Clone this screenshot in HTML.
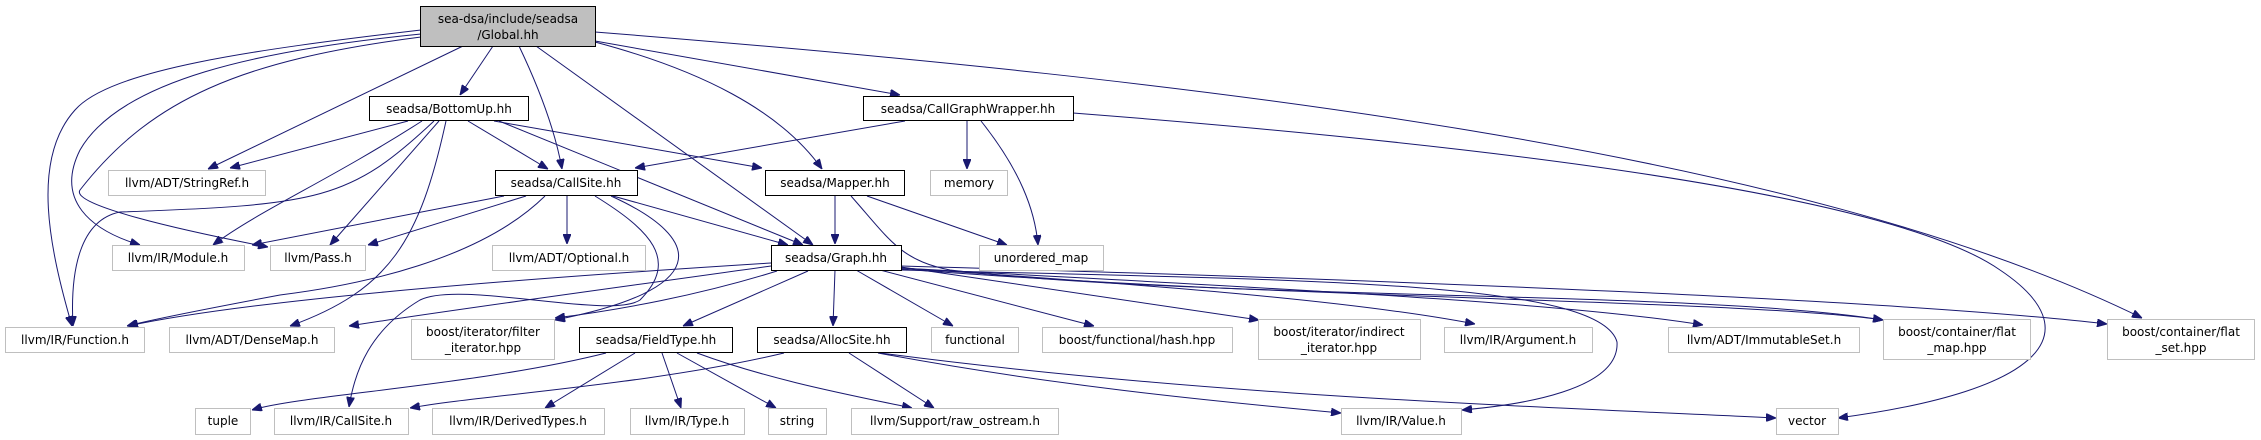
<!DOCTYPE html>
<html><head><meta charset="utf-8"><style>
html,body{margin:0;padding:0;background:#fff;width:2261px;height:440px;overflow:hidden}
svg{display:block}
text{font-family:"DejaVu Sans","Liberation Sans",sans-serif;font-size:12px;fill:#000;text-anchor:middle}
.n{fill:#fff;stroke:#bfbfbf;stroke-width:1}
.d{fill:#fff;stroke:#000;stroke-width:1}
.e{fill:none;stroke:#191970;stroke-width:1}
</style></head><body>
<svg width="2261" height="440" viewBox="0 0 2261 440" xmlns="http://www.w3.org/2000/svg">
<defs><marker id="a" markerWidth="10" markerHeight="8" refX="10" refY="4" orient="auto" markerUnits="userSpaceOnUse"><path d="M0,0 L10,4 L0,8 z" fill="#191970" stroke="#191970"/></marker></defs>
<g class="e" marker-end="url(#a)">
<!-- Global -->
<path d="M421,30 C250,50 110,70 75,110 C30,160 50,250 72,326"/>
<path d="M421,34 C260,50 120,80 80,150 C55,200 90,230 140,245"/>
<path d="M421,37 C240,60 150,100 80,190 C70,205 180,230 268,247"/>
<path d="M463,46 L208,169"/>
<path d="M493,46 L460,95"/>
<path d="M519,46 C540,90 555,130 562,169"/>
<path d="M536,46 L813,245"/>
<path d="M595,42 C700,70 780,110 822,169"/>
<path d="M595,41 L900,95"/>
<path d="M595,32 C1200,80 1800,150 2142,318"/>
<!-- BottomUp -->
<path d="M408,121 L230,168"/>
<path d="M422,121 C330,180 260,210 213,245"/>
<path d="M434,121 C350,200 320,205 120,212 C80,220 70,270 73,326"/>
<path d="M439,121 L330,245"/>
<path d="M446,121 C420,240 390,290 290,326"/>
<path d="M468,121 L548,169"/>
<path d="M494,121 L762,168"/>
<path d="M499,121 L803,245"/>
<!-- CallGraphWrapper -->
<path d="M905,121 L635,168"/>
<path d="M967,121 L967,169"/>
<path d="M981,121 C1020,170 1035,210 1038,245"/>
<path d="M1073,113 C1550,150 1900,200 2000,270 C2090,330 2050,390 1838,418"/>
<!-- Mapper -->
<path d="M835,196 L835,244"/>
<path d="M867,196 L1007,245"/>
<path d="M851,196 C890,240 900,260 950,270 C1200,300 1700,290 1883,320"/>
<!-- CallSite -->
<path d="M504,196 L252,245"/>
<path d="M526,196 L368,245"/>
<path d="M567,196 L567,244"/>
<path d="M545,196 C480,260 360,285 280,295 C200,310 150,320 127,326"/>
<path d="M613,196 L788,245"/>
<path d="M595,196 C650,230 680,260 640,300 C610,320 460,280 420,300 C370,330 355,370 349,407"/>
<path d="M611,196 C708,240 710,290 555,320"/>
<!-- Graph -->
<path d="M771,263 C500,280 250,300 128,326"/>
<path d="M771,266 C600,290 450,310 349,326"/>
<path d="M777,271 C700,295 620,310 555,318"/>
<path d="M808,271 L683,326"/>
<path d="M835,270 L833,326"/>
<path d="M856,270 L953,326"/>
<path d="M880,270 L1094,326"/>
<path d="M901,267 L1259,320"/>
<path d="M901,268 C1150,285 1350,300 1475,324"/>
<path d="M901,268 C1200,285 1550,300 1703,325"/>
<path d="M901,269 C1300,300 1750,300 1883,320"/>
<path d="M901,266 C1400,280 1900,300 2107,324"/>
<path d="M901,270 C1300,280 1600,280 1617,342 C1620,390 1520,405 1462,410"/>
<!-- FieldType -->
<path d="M606,353 C480,385 300,395 252,410"/>
<path d="M635,353 L545,408"/>
<path d="M662,353 L681,408"/>
<path d="M677,353 L776,408"/>
<path d="M697,353 C770,380 850,395 912,408"/>
<!-- AllocSite -->
<path d="M784,353 C650,385 480,395 410,408"/>
<path d="M849,353 L934,408"/>
<path d="M878,353 C1050,385 1200,400 1341,413"/>
<path d="M880,353 C1200,395 1500,405 1776,418"/>
</g>
<!-- nodes -->
<rect x="420.5" y="6.5" width="175" height="40" fill="#bfbfbf" stroke="#000"/>
<text x="508" y="23">sea-dsa/include/seadsa</text><text x="508" y="39">/Global.hh</text>
<rect class="d" x="369.5" y="96.5" width="159" height="24"/><text x="449" y="113">seadsa/BottomUp.hh</text>
<rect class="d" x="863.5" y="96.5" width="210" height="24"/><text x="968" y="113">seadsa/CallGraphWrapper.hh</text>
<rect class="n" x="108.5" y="170.5" width="157" height="25"/><text x="187" y="187">llvm/ADT/StringRef.h</text>
<rect class="d" x="495.5" y="170.5" width="142" height="25"/><text x="566" y="187">seadsa/CallSite.hh</text>
<rect class="d" x="765.5" y="170.5" width="139" height="25"/><text x="835" y="187">seadsa/Mapper.hh</text>
<rect class="n" x="930.5" y="170.5" width="77" height="25"/><text x="969" y="187">memory</text>
<rect class="n" x="112.5" y="245.5" width="132" height="25"/><text x="178" y="262">llvm/IR/Module.h</text>
<rect class="n" x="270.5" y="245.5" width="95" height="25"/><text x="318" y="262">llvm/Pass.h</text>
<rect class="n" x="492.5" y="245.5" width="153" height="25"/><text x="569" y="262">llvm/ADT/Optional.h</text>
<rect class="d" x="771.5" y="245.5" width="130" height="25"/><text x="836" y="262">seadsa/Graph.hh</text>
<rect class="n" x="979.5" y="245.5" width="124" height="25"/><text x="1041" y="262">unordered_map</text>
<rect class="n" x="5.5" y="327.5" width="139" height="25"/><text x="75" y="344">llvm/IR/Function.h</text>
<rect class="n" x="169.5" y="327.5" width="165" height="25"/><text x="252" y="344">llvm/ADT/DenseMap.h</text>
<rect class="n" x="411.5" y="319.5" width="143" height="40"/><text x="483" y="336">boost/iterator/filter</text><text x="483" y="352">_iterator.hpp</text>
<rect class="d" x="579.5" y="327.5" width="153" height="25"/><text x="656" y="344">seadsa/FieldType.hh</text>
<rect class="d" x="757.5" y="327.5" width="149" height="25"/><text x="832" y="344">seadsa/AllocSite.hh</text>
<rect class="n" x="931.5" y="327.5" width="87" height="25"/><text x="975" y="344">functional</text>
<rect class="n" x="1042.5" y="327.5" width="190" height="25"/><text x="1137" y="344">boost/functional/hash.hpp</text>
<rect class="n" x="1258.5" y="319.5" width="162" height="40"/><text x="1339" y="336">boost/iterator/indirect</text><text x="1339" y="352">_iterator.hpp</text>
<rect class="n" x="1444.5" y="327.5" width="148" height="25"/><text x="1518" y="344">llvm/IR/Argument.h</text>
<rect class="n" x="1668.5" y="327.5" width="191" height="25"/><text x="1764" y="344">llvm/ADT/ImmutableSet.h</text>
<rect class="n" x="1883.5" y="319.5" width="147" height="40"/><text x="1957" y="336">boost/container/flat</text><text x="1957" y="352">_map.hpp</text>
<rect class="n" x="2107.5" y="319.5" width="147" height="40"/><text x="2181" y="336">boost/container/flat</text><text x="2181" y="352">_set.hpp</text>
<rect class="n" x="195.5" y="408.5" width="55" height="26"/><text x="223" y="425">tuple</text>
<rect class="n" x="274.5" y="408.5" width="134" height="26"/><text x="341" y="425">llvm/IR/CallSite.h</text>
<rect class="n" x="432.5" y="408.5" width="172" height="26"/><text x="518" y="425">llvm/IR/DerivedTypes.h</text>
<rect class="n" x="630.5" y="408.5" width="114" height="26"/><text x="687" y="425">llvm/IR/Type.h</text>
<rect class="n" x="768.5" y="408.5" width="58" height="26"/><text x="797" y="425">string</text>
<rect class="n" x="851.5" y="408.5" width="207" height="26"/><text x="955" y="425">llvm/Support/raw_ostream.h</text>
<rect class="n" x="1341.5" y="408.5" width="120" height="26"/><text x="1401" y="425">llvm/IR/Value.h</text>
<rect class="n" x="1776.5" y="408.5" width="62" height="26"/><text x="1807" y="425">vector</text>
</svg>
</body></html>
